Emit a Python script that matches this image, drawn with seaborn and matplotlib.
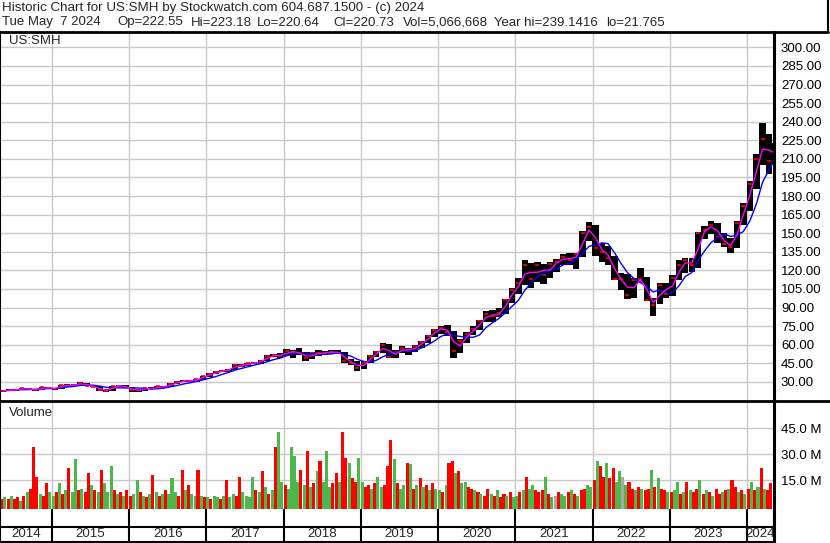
import matplotlib
matplotlib.use('Agg')
import matplotlib.pyplot as plt
from matplotlib.lines import Line2D
import seaborn as sns
import pandas as pd

sns.set_style('white')
plt.rcParams['font.family'] = ['Liberation Sans', 'DejaVu Sans']

# monthly price bars, May 2014 .. May 2024
close = [
    22.8, 23.5, 23.8, 24.8, 24.0, 23.8, 25.5, 25.0,
    24.6, 27.5, 27.0, 27.6, 29.0, 27.0, 26.0, 23.5, 23.0, 26.5, 27.0, 25.5,
    23.2, 23.3, 25.0, 24.5, 26.3, 26.0, 28.5, 30.0, 31.0, 30.8, 32.0, 34.5,
    36.5, 38.0, 39.0, 40.0, 44.0, 43.0, 45.0, 45.5, 47.0, 51.0, 51.5, 51.0,
    55.0, 54.0, 53.0, 49.0, 53.0, 53.0, 53.5, 54.5, 53.5, 47.0, 45.5, 41.0,
    45.5, 51.0, 54.0, 60.0, 50.5, 54.0, 57.0, 55.0, 59.0, 62.0, 67.0, 72.0,
    73.5, 70.0, 55.0, 63.0, 69.0, 73.0, 79.0, 85.0, 83.0, 86.0, 96.0, 104.0,
    110.0, 124.0, 113.0, 124.0, 116.0, 125.0, 127.0, 131.0, 128.0, 133.0, 150.0, 155.0,
    138.0, 135.0, 130.0, 113.0, 113.0, 100.0, 112.0, 113.0, 96.0, 92.0, 108.0, 101.0,
    114.0, 124.0, 128.0, 124.0, 150.0, 153.0, 157.0, 147.0, 141.0, 139.0, 158.0, 172.0,
    190.0, 210.0, 226.0, 208.0, 220.7,
]
high = [
    23.4, 24.0, 24.4, 25.2, 25.2, 24.4, 25.9, 25.9,
    25.4, 27.8, 28.0, 28.2, 29.6, 29.2, 27.4, 26.3, 24.4, 26.9, 27.6, 27.3,
    25.7, 23.9, 25.4, 25.5, 26.6, 26.9, 28.9, 30.4, 31.4, 31.6, 32.6, 35.0,
    37.0, 38.6, 39.5, 40.5, 44.6, 44.8, 45.6, 46.2, 47.6, 51.6, 52.8, 53.0,
    56.5, 56.0, 57.0, 54.5, 54.0, 55.5, 54.8, 55.5, 55.5, 54.0, 48.5, 46.5,
    46.5, 52.0, 55.0, 61.0, 60.5, 55.5, 59.0, 57.5, 60.0, 62.8, 67.8, 72.8,
    75.5, 76.0, 71.0, 65.0, 70.0, 75.0, 80.0, 87.0, 88.0, 90.0, 97.0, 106.0,
    114.0, 128.0, 126.0, 127.0, 125.0, 127.0, 129.0, 133.0, 134.0, 134.0, 152.0, 159.0,
    157.0, 142.0, 140.0, 132.0, 118.0, 117.0, 114.0, 122.0, 115.0, 98.0, 110.0, 110.0,
    116.0, 128.0, 130.0, 130.0, 151.0, 156.0, 160.0, 158.0, 150.0, 146.0, 160.0, 174.0,
    192.0, 214.0, 239.1, 230.0, 223.2,
]
low = [
    21.8, 22.6, 23.0, 23.5, 23.4, 22.3, 23.6, 24.2,
    23.8, 24.4, 26.5, 26.6, 27.4, 26.7, 25.6, 22.3, 22.2, 22.9, 26.0, 25.0,
    22.2, 21.9, 23.0, 24.1, 24.2, 25.0, 25.8, 28.3, 29.6, 30.0, 29.8, 31.8,
    34.2, 36.2, 37.6, 38.2, 39.8, 42.0, 42.8, 44.2, 44.8, 46.8, 50.0, 49.5,
    50.8, 49.5, 51.5, 47.2, 48.5, 51.0, 51.5, 52.5, 52.5, 45.0, 43.5, 39.0,
    40.5, 45.0, 50.0, 53.5, 49.5, 49.5, 53.5, 51.5, 54.5, 57.5, 61.5, 66.5,
    68.5, 67.0, 49.0, 53.0, 61.0, 67.5, 72.0, 78.0, 78.0, 82.0, 85.0, 94.0,
    101.0, 108.0, 106.0, 111.0, 109.0, 114.0, 119.0, 124.0, 124.0, 121.0, 131.0, 144.0,
    132.0, 127.0, 124.0, 112.0, 104.0, 97.0, 98.0, 110.0, 95.0, 83.5, 93.0, 98.0,
    99.0, 112.0, 118.0, 119.0, 122.0, 145.0, 149.0, 142.0, 139.0, 134.0, 138.0, 157.0,
    168.0, 186.0, 205.0, 198.0, 205.0,
]

# volume in millions, twice a month; r = down, g = up, s = unchanged
volume = [
    4, 5, 4, 6, 4, 5, 3, 6, 8, 10, 34, 17, 7, 6, 13, 8,
    6, 8, 13, 7, 9, 22, 8, 27, 9, 10, 8, 19, 12, 9, 8, 21, 13, 8, 23, 9, 7, 8, 6, 9,
    6, 7, 15, 8, 6, 5, 7, 18, 8, 6, 7, 9, 7, 16, 8, 6, 21, 9, 12, 7, 6, 21, 6, 5,
    5, 4, 6, 5, 4, 6, 15, 5, 7, 6, 17, 8, 6, 5, 17, 9, 8, 20, 11, 7, 9, 34, 43, 14,
    12, 10, 34, 29, 14, 21, 12, 32, 11, 13, 20, 26, 14, 32, 11, 13, 19, 14, 43, 28, 25, 16, 14, 28,
    14, 11, 12, 10, 13, 17, 11, 12, 23, 38, 27, 13, 10, 12, 25, 24, 10, 12, 16, 11, 12, 9, 13, 10,
    9, 8, 12, 25, 26, 19, 20, 13, 14, 11, 10, 9, 8, 7, 6, 10, 7, 6, 9, 5, 7, 6, 8, 5,
    6, 8, 9, 17, 10, 12, 9, 8, 9, 17, 7, 5, 6, 8, 7, 6, 8, 9, 7, 6, 9, 10, 12, 11,
    15, 26, 23, 17, 25, 16, 22, 14, 20, 17, 12, 14, 10, 9, 11, 10, 9, 10, 21, 11, 16, 10, 9, 8,
    8, 9, 14, 7, 8, 14, 9, 8, 10, 15, 7, 9, 8, 6, 10, 7, 8, 9, 10, 15, 11, 8, 9, 7,
    10, 14, 9, 11, 22, 10, 9, 13, 9,
]
vol_dir = (
    "rgrgrrgrgrrrgrrg"
    "grgrgrggrgrrgrgrgggrgrgr"
    "rggrgrgrgrgrgggrrgrggrgr"
    "grggrgrggrrggggrgrgrgrgg"
    "rggggrgrgrgrgggrrgrrgrrg"
    "grrgrggrrrgrggrgrgrgrgrg"
    "grgrrgrggrrgrgrrgrgrrgrg"
    "grgrggrrrgrgsrggrgrgrrgg"
    "rgrrgrrggsgrrgrgrrgrgrrg"
    "rggrgrgrrgrgrgrrgrgrrgrg"
    "rgrgrgrrg"
)
assert len(close) == len(high) == len(low)
assert len(volume) == len(vol_dir)

price_ticks = list(range(30, 301, 15))
vol_ticks = [15, 30, 45]
years = list(range(2014, 2025))

header1 = "Historic Chart for US:SMH by Stockwatch.com 604.687.1500 - (c) 2024"
header2 = ["Tue May  7 2024", "Op=222.55", "Hi=223.18", "Lo=220.64", "Cl=220.73",
           "Vol=5,066,668", "Year hi=239.1416", "lo=21.765"]
header2_x = [2, 117, 190.5, 256.5, 333, 402.5, 494, 606]

px = pd.DataFrame({
    'date': pd.date_range('2014-05-01', periods=len(close), freq='MS') + pd.Timedelta(days=14),
    'close': close, 'high': high, 'low': low,
})
px['ma_fast'] = px['close'].rolling(2, min_periods=1).mean()
px['ma_slow'] = px['close'].rolling(5, min_periods=1).mean()

vol = pd.DataFrame({
    'date': pd.date_range('2014-05-01', periods=len(volume), freq='SMS'),
    'volume': volume,
    'dir': list(vol_dir),
})
dir_colors = {'r': '#ff0000', 'g': '#4cb84c', 's': '#a8a8a8'}

W, H = 830, 543


def box(x0, y0, x1, y1):
    return [x0 / W, 1 - y1 / H, (x1 - x0) / W, (y1 - y0) / H]


def fig_line(xs, ys, lw=1.5):
    fig.add_artist(Line2D([x / W for x in xs], [1 - y / H for y in ys],
                          transform=fig.transFigure, color='black', lw=lw))


fig = plt.figure(figsize=(W / 100, H / 100), dpi=100)
ax_p = fig.add_axes(box(0, 32, 774, 400))
ax_v = fig.add_axes(box(0, 401, 774, 509))
ax_d = fig.add_axes(box(0, 509, 774, 542))

x0, x1 = pd.Timestamp('2014-05-01'), pd.Timestamp('2024-05-08')
year_starts = [pd.Timestamp(f'{y}-01-01') for y in years[1:]]
grid_c = '#c8c8c8'
fs = 9.5

# price panel
ax_p.bar(px['date'], px['high'] - px['low'], bottom=px['low'], width=30.5,
         color='black', lw=0, zorder=2)
ax_p.scatter(px['date'], px['close'], marker='_', color='red', s=7, lw=1.2, zorder=3)
sns.lineplot(data=px, x='date', y='ma_slow', color='#0000ff', lw=1, ax=ax_p, zorder=4)
sns.lineplot(data=px, x='date', y='ma_fast', color='#ff00ff', lw=1, ax=ax_p, zorder=5)
ax_p.set_xlim(x0, x1)
ax_p.set_ylim(15.4, 312.4)
ax_p.set_yticks(price_ticks)
ax_p.set_yticklabels([f'{v:.2f}' for v in price_ticks])
ax_p.text(0.012, 1 - 9.5 / 368, 'US:SMH', transform=ax_p.transAxes, fontsize=fs, va='center')

# volume panel
vol_floor = -1.8
ax_v.bar(vol['date'], vol['volume'] - vol_floor, bottom=vol_floor, width=14.5, align='edge',
         color=[dir_colors[d] for d in vol['dir']], lw=0, zorder=2)
ax_v.set_xlim(x0, x1)
ax_v.set_ylim(vol_floor, 60.8)
ax_v.set_yticks(vol_ticks)
ax_v.set_yticklabels([f'{v:.1f} M' for v in vol_ticks])
ax_v.text(0.012, 1 - 11.5 / 108, 'Volume', transform=ax_v.transAxes, fontsize=fs, va='center')

for ax in (ax_p, ax_v):
    ax.set_xlabel('')
    ax.set_ylabel('')
    ax.set_xticks(year_starts)
    ax.set_xticklabels([])
    ax.grid(True, color=grid_c, lw=1)
    ax.set_axisbelow(True)
    ax.yaxis.tick_right()
    ax.tick_params(axis='y', length=0, pad=5, labelsize=fs, colors='black')
    ax.tick_params(axis='x', length=0)
    for s in ax.spines.values():
        s.set_visible(False)
    ax.spines['left'].set_visible(True)
    ax.spines['left'].set_color('black')
    ax.spines['left'].set_linewidth(1.5)

# date strip
ax_d.set_xlim(x0, x1)
ax_d.set_ylim(0, 1)
ax_d.set_xticks([])
ax_d.set_yticks([])
for d in year_starts:
    ax_d.axvline(d, color='black', lw=1.5)
ax_d.axhline(1 - 18 / 33, color='black', lw=1.5)
for y in years:
    a = max(pd.Timestamp(f'{y}-01-01'), x0)
    b = min(pd.Timestamp(f'{y + 1}-01-01'), x1)
    ax_d.text(a + (b - a) / 2, 0.24, str(y), ha='center', va='center', fontsize=fs)
for s in ax_d.spines.values():
    s.set_color('black')
    s.set_linewidth(1.5)
ax_d.spines['top'].set_visible(False)

# frame lines and header
fig_line([0, 828], [31.5, 31.5], lw=2)
fig_line([828, 828], [0, 31.5], lw=1.5)
fig_line([0, 830], [400.5, 400.5], lw=2)
fig_line([774, 774], [31.5, 543], lw=2.2)
fig.text(2 / W, 1 - 8.5 / H, header1, fontsize=9.65, va='center')
for txt, xp in zip(header2, header2_x):
    fig.text(xp / W, 1 - 22.5 / H, txt, fontsize=fs, va='center')

fig.savefig('out.png', dpi=100)
